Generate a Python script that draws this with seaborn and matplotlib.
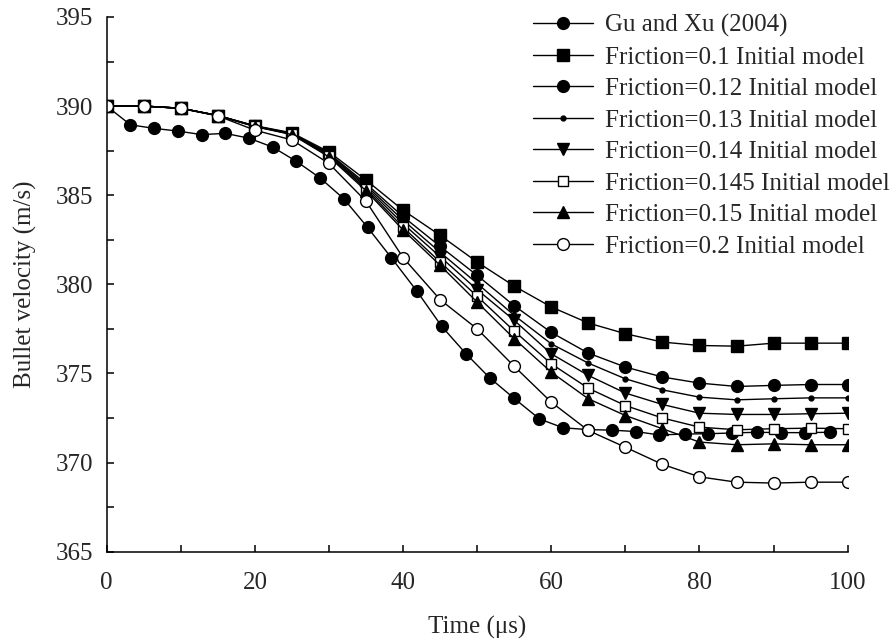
import matplotlib
matplotlib.use("Agg")
import matplotlib.pyplot as plt
import seaborn as sns
from matplotlib.ticker import MultipleLocator

# Gu and Xu (2004) experimental points
gu_time = [0, 3.2, 6.4, 9.6, 12.8, 16, 19.2, 22.4, 25.6, 28.8, 32, 35.2, 38.4, 41.9,
           45.2, 48.5, 51.7, 55, 58.4, 61.6, 65, 68.2, 71.4, 74.6, 78, 81.2, 84.4,
           87.7, 91, 94.3, 97.6]
gu_vel = [390.0, 388.95, 388.75, 388.6, 388.4, 388.47, 388.2, 387.7, 386.9, 385.97,
          384.8, 383.2, 381.5, 379.6, 377.65, 376.1, 374.75, 373.6, 372.45, 371.95,
          371.85, 371.82, 371.74, 371.55, 371.6, 371.62, 371.66, 371.7, 371.68,
          371.68, 371.7]

# simulation time steps
sim_time = [0, 5, 10, 15, 20, 25, 30, 35, 40, 45, 50, 55, 60, 65, 70, 75, 80, 85, 90, 95, 100]

f010 = [390.0, 390.0, 389.88, 389.47, 388.9, 388.5, 387.43, 385.85, 384.16, 382.75, 381.25,
        379.9, 378.73, 377.83, 377.23, 376.76, 376.57, 376.53, 376.7, 376.7, 376.7]
f012 = [390.0, 390.0, 389.88, 389.47, 388.88, 388.47, 387.35, 385.65, 383.8, 382.13, 380.5,
        378.8, 377.3, 376.14, 375.36, 374.8, 374.46, 374.27, 374.33, 374.38, 374.38]
f013 = [390.0, 390.0, 389.88, 389.47, 388.88, 388.45, 387.3, 385.55, 383.6, 381.8, 380.05,
        378.26, 376.66, 375.58, 374.7, 374.08, 373.67, 373.52, 373.58, 373.63, 373.63]
f014 = [390.0, 390.0, 389.88, 389.47, 388.87, 388.43, 387.25, 385.45, 383.4, 381.55, 379.7,
        377.98, 376.1, 374.89, 373.9, 373.26, 372.77, 372.7, 372.7, 372.74, 372.77]
f0145 = [390.0, 390.0, 389.88, 389.47, 388.86, 388.42, 387.2, 385.35, 383.2, 381.25, 379.33,
         377.38, 375.54, 374.17, 373.2, 372.5, 371.99, 371.84, 371.9, 371.93, 371.9]
f015 = [390.0, 390.0, 389.88, 389.47, 388.85, 388.4, 387.15, 385.25, 383.05, 381.07, 379.0,
        376.95, 375.07, 373.58, 372.64, 371.9, 371.15, 371.0, 371.05, 371.0, 371.0]
f020 = [390.0, 390.0, 389.87, 389.45, 388.65, 388.1, 386.78, 384.66, 381.5, 379.14, 377.5,
        375.4, 373.39, 371.8, 370.86, 369.9, 369.2, 368.9, 368.85, 368.9, 368.9]

sns.set_style("ticks")
plt.rcParams['font.family'] = ['Liberation Serif', 'DejaVu Serif']
plt.rcParams['font.size'] = 18

fig = plt.figure(figsize=(8.95, 6.43), dpi=100)
ax = fig.add_axes([0.1192, 0.142, 0.8279, 0.8316])

# (label, x, y, marker, size, facecolor)
series = [
    ('Gu and Xu (2004)', gu_time, gu_vel, 'o', 8.5, 'black'),
    ('Friction=0.1 Initial model', sim_time, f010, 's', 8, 'black'),
    ('Friction=0.12 Initial model', sim_time, f012, 'o', 8.5, 'black'),
    ('Friction=0.13 Initial model', sim_time, f013, 'o', 3.5, 'black'),
    ('Friction=0.14 Initial model', sim_time, f014, 'v', 9, 'black'),
    ('Friction=0.145 Initial model', sim_time, f0145, 's', 7.5, 'white'),
    ('Friction=0.15 Initial model', sim_time, f015, '^', 9, 'black'),
    ('Friction=0.2 Initial model', sim_time, f020, 'o', 8.5, 'white'),
]

for label, xs, ys, mk, ms, fc in series:
    sns.lineplot(x=xs, y=ys, ax=ax, color='black', linewidth=1.0, marker=mk,
                 markersize=ms, markerfacecolor=fc, markeredgecolor='black',
                 markeredgewidth=1.0, label=label)

ax.set_xlim(0, 100)
ax.set_ylim(365, 395)
ax.xaxis.set_major_locator(MultipleLocator(20))
ax.xaxis.set_minor_locator(MultipleLocator(10))
ax.yaxis.set_major_locator(MultipleLocator(5))
ax.yaxis.set_minor_locator(MultipleLocator(2.5))
ax.tick_params(axis='both', which='both', direction='in', length=5, width=1.1,
               labelsize=18, color='black')
ax.tick_params(axis='x', which='both', pad=14.5)
ax.tick_params(axis='y', which='both', pad=9.5)
sns.despine(ax=ax)
for sp in ['left', 'bottom']:
    ax.spines[sp].set_linewidth(1.1)
    ax.spines[sp].set_color('black')

ax.set_xlabel('Time (μs)', fontsize=18, labelpad=16)
ax.set_ylabel('Bullet velocity (m/s)', fontsize=18, labelpad=14)

ax.legend(loc='upper left', bbox_to_anchor=(0.595, 0.978), bbox_transform=fig.transFigure,
          frameon=False, fontsize=18, handlelength=2.4, handletextpad=0.5,
          labelspacing=0.36, borderpad=0, borderaxespad=0)

fig.savefig('out.png', dpi=100)
